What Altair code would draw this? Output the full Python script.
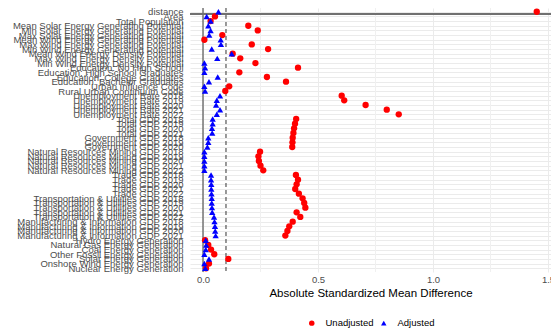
import altair as alt
import pandas as pd

# Covariates, top to bottom
names = [
    "distance", "Area", "Total Population",
    "Mean Solar Energy Generating Potential", "Min Solar Energy Generating Potential",
    "Max Solar Energy Generating Potential",
    "Mean Wind Energy Generating Potential", "Max Wind Energy Generating Potential",
    "Min Wind Energy Generating Potential",
    "Mean Wind Energy Density Potential", "Max Wind Energy Density Potential",
    "Min Wind Energy Density Potential",
    "Education: No High School", "Education: High School Graduates",
    "Education: College Graduates", "Education: Bachelor Graduates",
    "Urban Influence Code", "Rural Urban Continuum Code",
    "Unemployment Rate 2018", "Unemployment Rate 2019", "Unemployment Rate 2020",
    "Unemployment Rate 2021", "Unemployment Rate 2022",
    "Total GDP 2018", "Total GDP 2019", "Total GDP 2020", "Total GDP 2021",
    "Government GDP 2018", "Government GDP 2019", "Government GDP 2020",
    "Natural Resources Mining GDP 2018", "Natural Resources Mining GDP 2019",
    "Natural Resources Mining GDP 2020", "Natural Resources Mining GDP 2021",
    "Natural Resources Mining GDP 2022",
    "Trade GDP 2018", "Trade GDP 2019", "Trade GDP 2020", "Trade GDP 2021", "Trade GDP 2022",
    "Transportation & Utilities GDP 2018", "Transportation & Utilities GDP 2019",
    "Transportation & Utilities GDP 2020", "Transportation & Utilities GDP 2021",
    "Transportation & Utilities GDP 2022",
    "Manufacturing & Information GDP 2018", "Manufacturing & Information GDP 2019",
    "Manufacturing & Information GDP 2020", "Manufacturing & Information GDP 2021",
    "Hydro Energy Generation",
    "Natural Gas Energy Generation", "Coal Energy Generation",
    "Other Fossil Energy Generation", "Solar Energy Generation",
    "Onshore Wind Energy Generation", "Nuclear Energy Generation",
]

unadjusted = [
    1.451, 0.052, 0.033,
    0.197, 0.238, 0.084,
    0.006, 0.212, 0.283,
    0.129, 0.162, 0.228,
    0.413, 0.158, 0.278, 0.361,
    0.114, 0.097,
    0.603, 0.614, 0.707, 0.799, 0.851,
    0.405, 0.400, 0.396, 0.393,
    0.390, 0.389, 0.388,
    0.248, 0.241, 0.243, 0.250, 0.262,
    0.404, 0.413, 0.407, 0.401, 0.417,
    0.433, 0.440, 0.445, 0.407, 0.423,
    0.390, 0.375, 0.367, 0.358,
    0.009, 0.023, 0.035, 0.049, 0.110, 0.026, 0.013,
]

adjusted = [
    0.067, 0.016, 0.033,
    0.023, 0.033, 0.027,
    0.077, 0.078, 0.038,
    0.125, 0.062, 0.006,
    0.009, 0.006, 0.064, 0.026,
    0.006, 0.009,
    0.074, 0.060, 0.057, 0.074, 0.060,
    0.042, 0.042, 0.039, 0.040,
    0.023, 0.023, 0.019,
    0.006, 0.006, 0.006, 0.006, 0.006,
    0.035, 0.035, 0.036, 0.036, 0.037,
    0.038, 0.038, 0.039, 0.040, 0.048,
    0.050, 0.052, 0.053, 0.055,
    0.012, 0.014, 0.012, 0.006, 0.026, 0.006, 0.010,
]

samples = ["Unadjusted", "Adjusted"]
minor_grid = [0.25, 0.75, 1.25]
zero_line = [0.0]
threshold = [0.1]

df = pd.concat([
    pd.DataFrame({"var": names, "smd": unadjusted, "Sample": samples[0]}),
    pd.DataFrame({"var": names, "smd": adjusted, "Sample": samples[1]}),
], ignore_index=True)

FONT = "Liberation Sans"
x_scale = alt.Scale(domain=[-0.0565, 1.513], nice=False, zero=False)
y_scale = alt.Scale(type="point", domain=names, padding=0.8)

legend = alt.Legend(
    title=None, orient="none", direction="horizontal",
    legendX=117, legendY=310,
)

minor = alt.Chart(pd.DataFrame({"x": minor_grid})).mark_rule(
    color="#f0f0f0", strokeWidth=1
).encode(x=alt.X("x:Q", scale=x_scale))

points = alt.Chart(df).mark_point(filled=True, opacity=1, size=40).encode(
    x=alt.X(
        "smd:Q", scale=x_scale,
        axis=alt.Axis(
            title="Absolute Standardized Mean Difference",
            values=[0, 0.5, 1.0, 1.5], format=".1f",
            grid=True, gridColor="#ebebeb", domain=False, ticks=False,
            labelPadding=2.5, titlePadding=3,
        ),
    ),
    y=alt.Y(
        "var:N", scale=y_scale, sort=names,
        axis=alt.Axis(
            title=None, labelOverlap=False, labelLimit=400,
            grid=True, gridColor="#ebebeb", domain=False, ticks=False,
            labelPadding=7,
        ),
    ),
    color=alt.Color(
        "Sample:N",
        scale=alt.Scale(domain=samples, range=["#ff0000", "#0000ff"]),
        legend=legend,
    ),
    shape=alt.Shape(
        "Sample:N",
        scale=alt.Scale(domain=samples, range=["circle", "triangle-up"]),
        legend=legend,
    ),
    order=alt.Order("order:Q"),
).transform_calculate(order="datum.Sample == 'Adjusted' ? 1 : 0")

zero = alt.Chart(pd.DataFrame({"x": zero_line})).mark_rule(
    color="#555555", strokeWidth=1.2
).encode(x=alt.X("x:Q", scale=x_scale))

dashed = alt.Chart(pd.DataFrame({"x": threshold})).mark_rule(
    color="#333333", strokeWidth=1, strokeDash=[4, 3]
).encode(x=alt.X("x:Q", scale=x_scale))

separator = alt.Chart(pd.DataFrame({"var": names[:1]})).mark_rule(
    color="#707070", strokeWidth=2, yOffset=2.3
).encode(y=alt.Y("var:N", scale=y_scale, sort=names))

chart = alt.layer(minor, zero, dashed, separator, points).properties(
    width=361, height=264,
    autosize=alt.AutoSizeParams(type="none"),
    padding={"left": 190, "top": 8, "right": 0, "bottom": 58},
).configure(
    font=FONT,
).configure_view(
    stroke=None,
).configure_axis(
    labelFont=FONT, labelFontSize=9.5, labelColor="#4d4d4d",
    titleFont=FONT, titleFontSize=11.5, titleColor="#000000",
    titleFontWeight="normal",
).configure_legend(
    labelFont=FONT, labelFontSize=9.5, labelColor="#000000",
    symbolSize=30, labelOffset=9, columnPadding=5, padding=0,
)

chart.save("out.html", embed_options={"renderer": "svg", "actions": False})
